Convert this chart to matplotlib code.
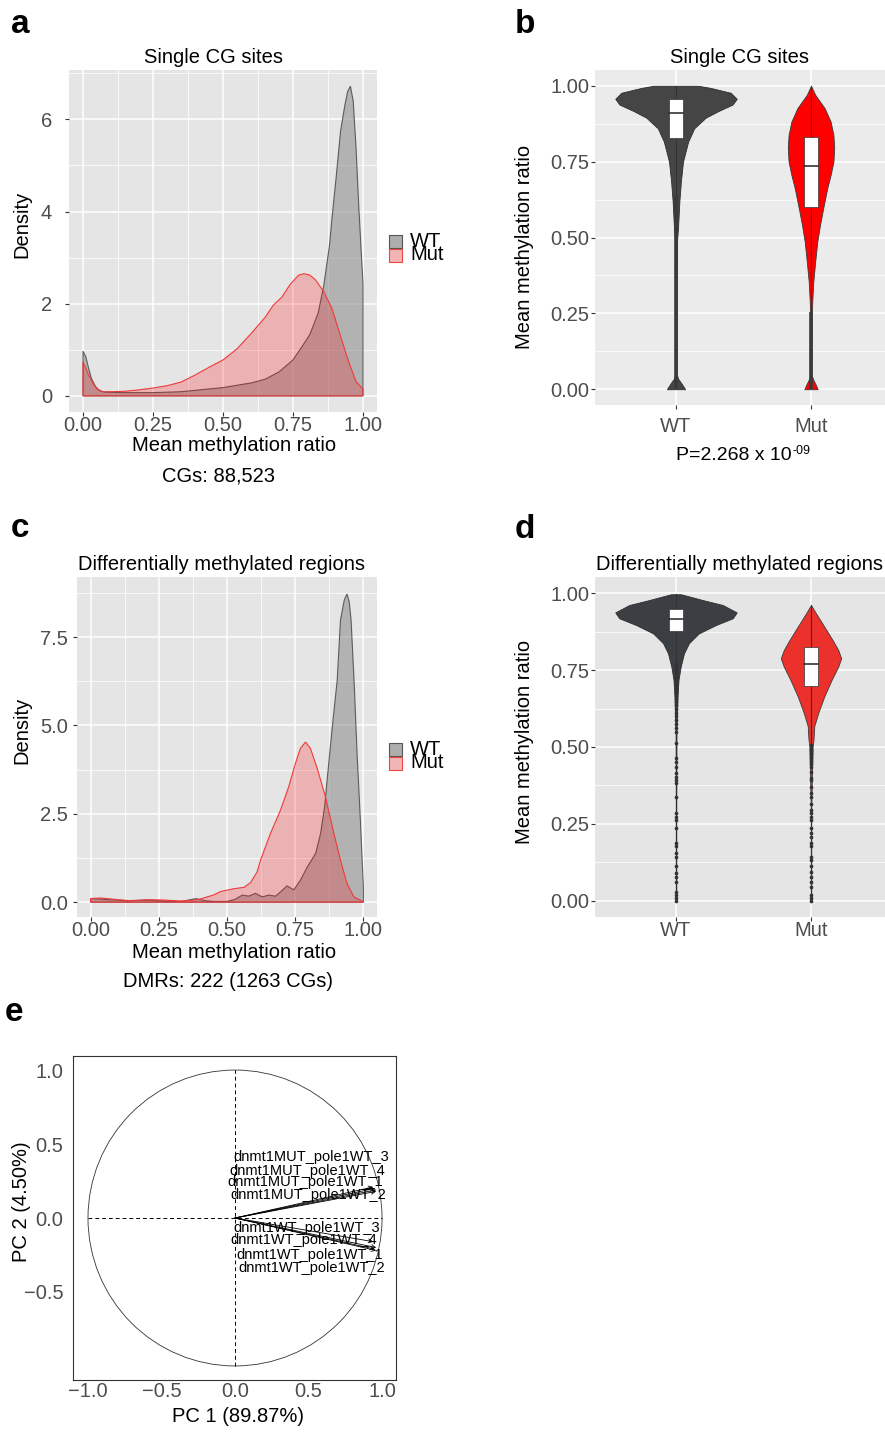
import numpy as np
import matplotlib
matplotlib.use("Agg")
import matplotlib.pyplot as plt
from matplotlib.patches import Rectangle, Circle

plt.rcParams['font.family'] = ['Liberation Sans', 'DejaVu Sans']

# ---------------- data ----------------
groups = ["WT", "Mut"]

# a: density of mean methylation ratio, single CG sites
a_wt_x = [0, 0.01, 0.02, 0.03, 0.045, 0.06, 0.08, 0.15, 0.25, 0.35, 0.45, 0.5, 0.6, 0.65, 0.7,
          0.75, 0.78, 0.81, 0.84, 0.86, 0.88, 0.89, 0.905, 0.92, 0.935, 0.945, 0.955, 0.965,
          0.975, 0.985, 0.993, 1.0]
a_wt_d = [0.97, 0.85, 0.6, 0.38, 0.2, 0.11, 0.08, 0.07, 0.07, 0.09, 0.15, 0.18, 0.28, 0.36, 0.52,
          0.78, 1.05, 1.33, 1.8, 2.4, 3.25, 3.9, 4.8, 5.75, 6.3, 6.6, 6.72, 6.4,
          5.4, 4.1, 3.2, 2.44]
a_mut_x = [0, 0.01, 0.02, 0.035, 0.05, 0.07, 0.1, 0.15, 0.2, 0.25, 0.3, 0.35, 0.4, 0.45, 0.5,
           0.55, 0.6, 0.65, 0.68, 0.71, 0.74, 0.77, 0.79, 0.81, 0.83, 0.86, 0.89, 0.92, 0.95,
           0.975, 1.0]
a_mut_d = [0.74, 0.6, 0.45, 0.28, 0.15, 0.09, 0.09, 0.1, 0.13, 0.17, 0.22, 0.3, 0.45, 0.62, 0.78,
           1.02, 1.35, 1.7, 1.97, 2.14, 2.42, 2.62, 2.65, 2.62, 2.52, 2.26, 1.88, 1.29, 0.72,
           0.31, 0.15]

# c: density, differentially methylated regions
c_wt_x = [0, 0.03, 0.06, 0.1, 0.13, 0.17, 0.21, 0.25, 0.3, 0.34, 0.385, 0.42, 0.45, 0.5, 0.53,
          0.556, 0.58, 0.604, 0.629, 0.653, 0.678, 0.696, 0.72, 0.745, 0.769, 0.794, 0.825,
          0.843, 0.858, 0.867, 0.885, 0.904, 0.916, 0.93, 0.94, 0.948, 0.955, 0.967, 0.977,
          0.989, 1.0]
c_wt_d = [0.1, 0.09, 0.07, 0.06, 0.04, 0.05, 0.06, 0.04, 0.02, 0.03, 0.1, 0.04, 0.02, 0.02, 0.08,
          0.2, 0.17, 0.25, 0.15, 0.2, 0.17, 0.29, 0.46, 0.35, 0.62, 0.99, 1.38,
          1.94, 2.7, 3.45, 4.87, 6.28, 7.98, 8.55, 8.72, 8.5, 7.98, 6.09, 4.2,
          2.33, 0.43]
c_mut_x = [0, 0.037, 0.1, 0.147, 0.208, 0.269, 0.33, 0.379, 0.403, 0.428, 0.45, 0.476, 0.5,
           0.525, 0.562, 0.586, 0.61, 0.623, 0.659, 0.696, 0.726, 0.751, 0.769, 0.788, 0.806,
           0.831, 0.861, 0.892, 0.916, 0.94, 0.965, 1.0]
c_mut_d = [0.1, 0.12, 0.07, 0.04, 0.07, 0.06, 0.03, 0.06, 0.09, 0.15, 0.2, 0.3, 0.34,
           0.38, 0.42, 0.55, 0.85, 1.19, 1.94, 2.6, 3.26, 3.93, 4.35, 4.53, 4.35,
           3.78, 2.98, 1.94, 1.19, 0.53, 0.15, 0.01]

# b: violin profiles (relative width, 1 = widest violin) and boxplot statistics
b_wt_v = [0, 0.019, 0.035, 0.05, 0.3, 0.486, 0.53, 0.618, 0.684, 0.75, 0.816, 0.86, 0.895,
          0.917, 0.938, 0.957, 0.977, 0.993, 1.0]
b_wt_w = [0.15, 0.09, 0.033, 0.012, 0.012, 0.015, 0.033, 0.055, 0.08, 0.115, 0.20, 0.30, 0.49,
          0.70, 0.93, 1.0, 0.90, 0.57, 0.37]
b_mut_v = [0, 0.013, 0.03, 0.046, 0.245, 0.29, 0.355, 0.42, 0.486, 0.541, 0.596, 0.662, 0.706,
           0.75, 0.794, 0.838, 0.882, 0.926, 0.970, 1.0]
b_mut_w = [0.11, 0.082, 0.041, 0.01, 0.013, 0.021, 0.038, 0.069, 0.103, 0.148, 0.2, 0.267, 0.323,
           0.369, 0.382, 0.369, 0.323, 0.225, 0.07, 0.0]
b_q1 = [0.829, 0.599]
b_med = [0.911, 0.734]
b_q3 = [0.957, 0.830]
b_lo = [0.637, 0.253]
b_hi = [1.0, 1.0]

# d: violin profiles and boxplot statistics
d_wt_v = [0, 0.3, 0.55, 0.664, 0.718, 0.761, 0.804, 0.837, 0.869, 0.896, 0.918, 0.937, 0.961,
          0.977, 0.996]
d_wt_w = [0.005, 0.005, 0.008, 0.025, 0.041, 0.077, 0.131, 0.213, 0.377, 0.656, 0.934, 1.0, 0.77,
          0.443, 0.082]
d_mut_v = [0, 0.3, 0.501, 0.523, 0.568, 0.611, 0.664, 0.718, 0.761, 0.788, 0.815, 0.847, 0.891,
           0.934, 0.961]
d_mut_w = [0.005, 0.005, 0.025, 0.041, 0.054, 0.12, 0.218, 0.339, 0.448, 0.497, 0.448, 0.356,
           0.218, 0.082, 0.0]
d_q1 = [0.877, 0.698]
d_med = [0.916, 0.768]
d_q3 = [0.947, 0.826]
d_lo = [0.772, 0.506]
d_hi = [0.996, 0.961]

d_wt_out = [0.770, 0.762, 0.755, 0.748, 0.741, 0.735, 0.728, 0.720, 0.712, 0.705, 0.698, 0.690,
            0.682, 0.674, 0.665, 0.655, 0.646, 0.636, 0.625, 0.612, 0.600, 0.588, 0.575, 0.562,
            0.548, 0.514, 0.463, 0.452, 0.436, 0.415, 0.404, 0.394, 0.383, 0.339, 0.285, 0.274,
            0.263, 0.236, 0.188, 0.177, 0.155, 0.144, 0.112, 0.090, 0.079, 0.063, 0.030, 0.020,
            0.009, 0.0]
d_mut_out = [0.505, 0.500, 0.495, 0.490, 0.486, 0.481, 0.476, 0.470, 0.464, 0.458, 0.451, 0.444,
             0.436, 0.420, 0.398, 0.393, 0.371, 0.350, 0.339, 0.315, 0.296, 0.285, 0.274, 0.263,
             0.236, 0.220, 0.209, 0.188, 0.177, 0.144, 0.134, 0.112, 0.095, 0.079, 0.063, 0.047,
             0.020, 0.009, 0.0]

# e: PCA variable loadings
e_names = ["dnmt1MUT_pole1WT_3", "dnmt1MUT_pole1WT_4", "dnmt1MUT_pole1WT_1", "dnmt1MUT_pole1WT_2",
           "dnmt1WT_pole1WT_3", "dnmt1WT_pole1WT_4", "dnmt1WT_pole1WT_1", "dnmt1WT_pole1WT_2"]
e_pc1 = [0.95, 0.96, 0.94, 0.96, 0.96, 0.95, 0.94, 0.96]
e_pc2 = [0.20, 0.19, 0.21, 0.18, -0.20, -0.21, -0.16, -0.22]
e_lab_x = [0.52, 0.49, 0.48, 0.50, 0.49, 0.47, 0.51, 0.52]
e_lab_y = [0.41, 0.32, 0.24, 0.155, -0.07, -0.15, -0.25, -0.34]

# ---------------- layout helpers (pixels) ----------------
W, H = 885, 1432
fig = plt.figure(figsize=(W / 100, H / 100), dpi=100)


def add_ax(l, t, r, b):
    return fig.add_axes([l / W, 1 - b / H, (r - l) / W, (b - t) / H])


def ftext(x, y, s, **kw):
    kw.setdefault("color", "black")
    return fig.text(x / W, 1 - y / H, s, **kw)


def frect(l, t, r, b, fc, ec):
    fig.add_artist(Rectangle((l / W, 1 - b / H), (r - l) / W, (b - t) / H,
                             transform=fig.transFigure, facecolor=fc, edgecolor=ec, lw=0.8))


def gg(ax, bg, ypad, xpad):
    ax.set_facecolor(bg)
    for s in ax.spines.values():
        s.set_visible(False)
    ax.set_axisbelow(True)
    ax.grid(True, which="major", color="white", lw=1.1)
    ax.grid(True, which="minor", color="white", lw=0.55)
    ax.tick_params(which="major", length=2.8, width=0.8, color="#333333",
                   labelsize=14.5, labelcolor="#4D4D4D")
    ax.tick_params(which="minor", length=0)
    ax.tick_params(axis="y", pad=ypad)
    ax.tick_params(axis="x", pad=xpad)


def density(ax, x, d, face, edge):
    xs = np.concatenate([x, [x[-1], x[0]]])
    ys = np.concatenate([d, [0, 0]])
    ax.fill(xs, ys, facecolor=face, edgecolor=edge, lw=0.8)


WT_FACE = (0.5, 0.5, 0.5, 0.5)
WT_EDGE = (0.25, 0.25, 0.25, 0.8)
MUT_FACE = (1.0, 0.0, 0.0, 0.22)
MUT_EDGE = "#F03A3A"


def density_panel(ax, wx, wd, mx, md, yt, ylab, yminor, ylim):
    gg(ax, "#E5E5E5", ypad=yt, xpad=0)
    density(ax, wx, wd, WT_FACE, WT_EDGE)
    density(ax, mx, md, MUT_FACE, MUT_EDGE)
    ax.set_xlim(-0.05, 1.05)
    ax.set_ylim(*ylim)
    ax.set_xticks([0, 0.25, 0.5, 0.75, 1.0])
    ax.set_xticklabels(["0.00", "0.25", "0.50", "0.75", "1.00"])
    ax.set_xticks([0.125, 0.375, 0.625, 0.875], minor=True)
    ax.set_yticks(ylab[0])
    ax.set_yticklabels(ylab[1])
    ax.set_yticks(yminor, minor=True)


def violin_panel(ax, prof, bg, faces, edges, q1, med, q3, lo, hi):
    gg(ax, bg, ypad=1, xpad=0)
    for i, (vv, ww) in enumerate(prof):
        pos = i + 1
        w = np.asarray(ww) * 0.45
        ax.fill_betweenx(vv, pos - w, pos + w, facecolor=faces[i],
                         edgecolor=edges[i], lw=0.6, zorder=2)
        ax.plot([pos, pos], [q3[i], hi[i]], color="#333333", lw=0.8, zorder=3)
        ax.plot([pos, pos], [lo[i], q1[i]], color="#333333", lw=0.8, zorder=3)
        ax.add_patch(Rectangle((pos - 0.05, q1[i]), 0.1, q3[i] - q1[i], facecolor="white",
                               edgecolor="#333333", lw=0.5, zorder=4))
        ax.plot([pos - 0.05, pos + 0.05], [med[i], med[i]], color="#333333", lw=1.2, zorder=5)
    ax.set_xlim(0.4, 2.6)
    ax.set_ylim(-0.052, 1.052)
    ax.set_xticks([1, 2])
    ax.set_xticklabels(groups)
    ax.set_yticks([0, 0.25, 0.5, 0.75, 1.0])
    ax.set_yticklabels(["0.00", "0.25", "0.50", "0.75", "1.00"])
    ax.set_yticks([0.125, 0.375, 0.625, 0.875], minor=True)


# ---------------- panel a ----------------
ax_a = add_ax(69, 70, 377, 412)
density_panel(ax_a, a_wt_x, a_wt_d, a_mut_x, a_mut_d, 9.5,
              ([0, 2, 4, 6], ["0", "2", "4", "6"]), [1, 3, 5, 7], (-0.35, 7.07))

# ---------------- panel b ----------------
ax_b = add_ax(595, 70, 892, 405)
violin_panel(ax_b, [(b_wt_v, b_wt_w), (b_mut_v, b_mut_w)], "#EBEBEB",
             ["#454545", "#FF0000"], ["#2E2E2E", "#3A3A3A"],
             b_q1, b_med, b_q3, b_lo, b_hi)
ax_b.tick_params(axis="x", pad=6)
for i in range(2):
    ax_b.plot([i + 1, i + 1], [0, b_lo[i]], color="#3A3A3A", lw=2.6, zorder=3,
              solid_capstyle="butt")

# ---------------- panel c ----------------
ax_c = add_ax(77, 577, 377, 917)
density_panel(ax_c, c_wt_x, c_wt_d, c_mut_x, c_mut_d, 3.5,
              ([0, 2.5, 5, 7.5], ["0.0", "2.5", "5.0", "7.5"]), [1.25, 3.75, 6.25, 8.75],
              (-0.42, 9.2))

# ---------------- panel d ----------------
ax_d = add_ax(595, 577, 892, 917)
violin_panel(ax_d, [(d_wt_v, d_wt_w), (d_mut_v, d_mut_w)], "#E5E5E5",
             ["#3B3E42", "#EC302C"], ["#2E2E2E", "#3A3A3A"],
             d_q1, d_med, d_q3, d_lo, d_hi)
ax_d.scatter(np.full(len(d_wt_out), 1), d_wt_out, s=7, color="#333333", lw=0, zorder=6)
ax_d.scatter(np.full(len(d_mut_out), 2), d_mut_out, s=7, color="#333333", lw=0, zorder=6)

# ---------------- panel e ----------------
ax_e = add_ax(73, 1056, 396, 1380)
ax_e.set_xlim(-1.102, 1.095)
ax_e.set_ylim(-1.095, 1.095)
for s in ax_e.spines.values():
    s.set_color("#333333")
    s.set_linewidth(0.8)
ax_e.add_patch(Circle((0, 0), 1, fill=False, ec="#333333", lw=0.6))
ax_e.plot([-1, 1], [0, 0], color="black", lw=0.7, ls=(0, (4, 3)))
ax_e.plot([0, 0], [-1, 1], color="black", lw=0.7, ls=(0, (4, 3)))
for px, py in zip(e_pc1, e_pc2):
    ax_e.annotate("", xy=(px, py), xytext=(0, 0),
                  arrowprops=dict(arrowstyle="->", lw=0.6, color="black", mutation_scale=7,
                                  shrinkA=0, shrinkB=0))
for name, lx, ly in zip(e_names, e_lab_x, e_lab_y):
    ax_e.text(lx, ly, name, ha="center", va="center", fontsize=10.5, color="black")
ax_e.set_xticks([-1, -0.5, 0, 0.5, 1])
ax_e.set_xticklabels(["\u22121.0", "\u22120.5", "0.0", "0.5", "1.0"])
ax_e.set_yticks([-0.5, 0, 0.5, 1])
ax_e.set_yticklabels(["\u22120.5", "0.0", "0.5", "1.0"])
ax_e.tick_params(length=0, labelsize=14.5, labelcolor="#4D4D4D")
ax_e.tick_params(axis="x", pad=1.5)
ax_e.tick_params(axis="y", pad=7)

# ---------------- text ----------------
for lab, x, y in [("a", 11, 33), ("b", 515, 33), ("c", 11, 537), ("d", 515, 538), ("e", 5, 1021)]:
    ftext(x, y, lab, fontsize=24, fontweight="bold", ha="left", va="baseline")

ftext(213, 63, "Single CG sites", fontsize=14.5, ha="center", va="baseline")
ftext(740, 63, "Single CG sites", fontsize=14.5, ha="center", va="baseline")
ftext(222, 570, "Differentially methylated regions", fontsize=14.5, ha="center", va="baseline")
ftext(740, 570, "Differentially methylated regions", fontsize=14.5, ha="center", va="baseline")

ftext(22, 224, "Density", fontsize=14.5, rotation=90, ha="center", va="center")
ftext(22, 730, "Density", fontsize=14.5, rotation=90, ha="center", va="center")
ftext(525, 247, "Mean methylation ratio", fontsize=14.5, rotation=90, ha="center", va="center")
ftext(525, 742, "Mean methylation ratio", fontsize=14.5, rotation=90, ha="center", va="center")
ftext(22, 1202, "PC 2 (4.50%)", fontsize=14.5, rotation=90, ha="center", va="center")

ftext(234, 451, "Mean methylation ratio", fontsize=14.5, ha="center", va="baseline")
ftext(219, 482, "CGs: 88,523", fontsize=14.5, ha="center", va="baseline")
ftext(234, 958, "Mean methylation ratio", fontsize=14.5, ha="center", va="baseline")
ftext(228, 987, "DMRs: 222 (1263 CGs)", fontsize=14.5, ha="center", va="baseline")
ftext(238, 1422, "PC 1 (89.87%)", fontsize=14.5, ha="center", va="baseline")

ptxt = ftext(676, 460, "P=2.268 x 10", fontsize=14, ha="left", va="baseline")
ax_b.annotate("-09", xy=(1, 0), xycoords=ptxt, xytext=(0.5, 7.5), textcoords="offset points",
              fontsize=9, ha="left", va="baseline", color="black", annotation_clip=False)

# legends (a, c)
for top in (235, 743):
    frect(389, top, 402, top + 13, "#ADADAD", "#555555")
    frect(389, top + 14, 402, top + 27, "#F2B5B5", "#EE4444")
    ftext(410, top + 12, "WT", fontsize=14.5, ha="left", va="baseline")
    ftext(410, top + 25, "Mut", fontsize=14.5, ha="left", va="baseline")

fig.savefig("out.png", dpi=100)
